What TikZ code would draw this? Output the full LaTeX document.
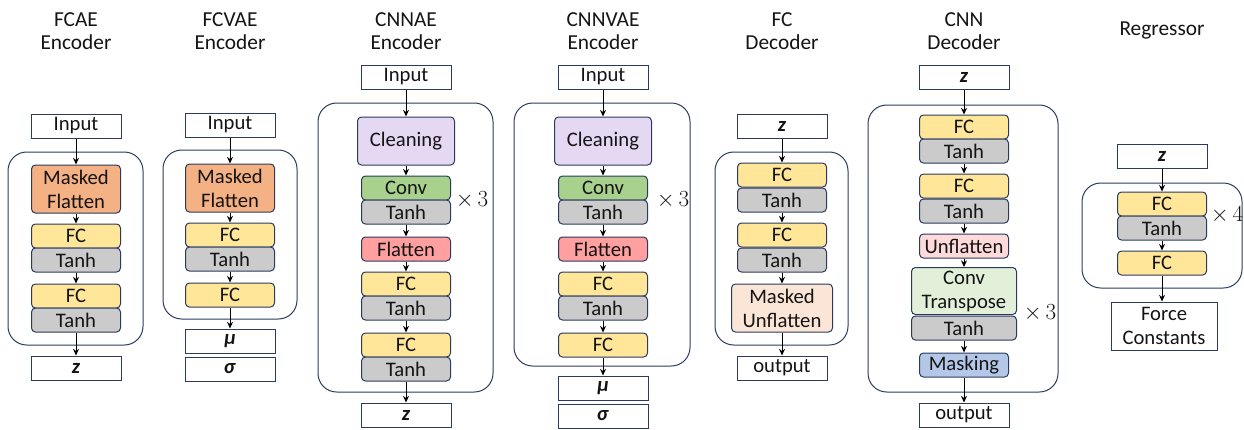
\documentclass[tikz,border=0pt]{standalone}
\usepackage{fontspec}
\setmainfont{Carlito}
\usetikzlibrary{arrows.meta}

\definecolor{edge}{HTML}{2B3A5E}
\definecolor{cMask}{HTML}{F4B183}
\definecolor{cFC}{HTML}{FFE699}
\definecolor{cTanh}{HTML}{CBCBCB}
\definecolor{cConv}{HTML}{A9D18E}
\definecolor{cClean}{HTML}{E5D8F3}
\definecolor{cFlat}{HTML}{FF9F9F}
\definecolor{cMUnfl}{HTML}{FBE5D6}
\definecolor{cUnfl}{HTML}{FFDADA}
\definecolor{cCT}{HTML}{E2F0D9}
\definecolor{cMaskg}{HTML}{B4C7E7}

\tikzset{
  blk/.style={draw=edge, line width=0.75pt, rounded corners=3pt,
    minimum width=66.75pt, minimum height=18pt, inner sep=0pt,
    font=\fontsize{15.5}{18}\selectfont, align=center, text=black!92},
  tall/.style={blk, minimum height=36pt},
  io/.style={draw=edge, line width=0.75pt, fill=white,
    minimum width=67.5pt, minimum height=18pt, inner sep=0pt,
    font=\fontsize{15.5}{18}\selectfont, align=center, text=black!92},
  ttl/.style={font=\fontsize{16}{17.5}\selectfont, align=center, text=black!92},
  holder/.style={draw=edge, line width=0.75pt, rounded corners=14pt},
  rep/.style={font=\fontsize{16.5}{18}\selectfont, text=black!92},
  arr/.style={-{Stealth[length=5pt,width=4.5pt]}, line width=0.6pt, black}
}

\newcommand{\zz}{\textbf{\textit{z}}}
\newcommand{\muv}{\textbf{\textit{μ}}}
\newcommand{\sgv}{\textbf{\textit{σ}}}

\begin{document}
\begin{tikzpicture}[x=0.75pt,y=-0.75pt]
\useasboundingbox (0,0) rectangle (1244,429);

% ---------- FCAE encoder ----------
\node[ttl] (t1) at (76,31) {FCAE\\Encoder};
\draw[holder] (8,152) rectangle (143,345);
\node[io] (in1) at (76,126) {Input};
\node[tall, fill=cMask] (mf1) at (76,189) {Masked\\Flatten};
\node[blk, fill=cFC] (fc1a) at (76,236) {FC};
\node[blk, fill=cTanh] (th1a) at (76,260) {Tanh};
\node[blk, fill=cFC] (fc1b) at (76,296) {FC};
\node[blk, fill=cTanh] (th1b) at (76,320) {Tanh};
\node[io] (z1) at (76,368) {\zz};
\draw[arr] (in1) -- (mf1);
\draw[arr] (mf1) -- (fc1a);
\draw[arr] (th1a) -- (fc1b);
\draw[arr] (th1b) -- (z1);

% ---------- FCVAE encoder ----------
\node[ttl] (t2) at (230,31) {FCVAE\\Encoder};
\draw[holder] (163,150) rectangle (297,319);
\node[io] (in2) at (230,125) {Input};
\node[tall, fill=cMask] (mf2) at (230,188) {Masked\\Flatten};
\node[blk, fill=cFC] (fc2a) at (230,235) {FC};
\node[blk, fill=cTanh] (th2a) at (230,259) {Tanh};
\node[blk, fill=cFC] (fc2b) at (230,295) {FC};
\node[io] (mu2) at (230,341) {\muv};
\node[io] (sg2) at (230,369) {\sgv};
\draw[arr] (in2) -- (mf2);
\draw[arr] (mf2) -- (fc2a);
\draw[arr] (th2a) -- (fc2b);
\draw[arr] (fc2b) -- (mu2);

% ---------- CNNAE encoder ----------
\node[ttl] (t3) at (406,31) {CNNAE\\Encoder};
\draw[holder] (318,103) rectangle (493,392);
\node[io] (in3) at (406,77) {Input};
\node[tall, fill=cClean, minimum width=72.75pt] (cl3) at (406,141) {Cleaning};
\node[blk, fill=cConv] (cv3) at (406,188) {Conv};
\node[blk, fill=cTanh] (th3a) at (406,212) {Tanh};
\node[rep] (x3) at (472,200) {$\times\,3$};
\node[blk, fill=cFlat] (fl3) at (406,249) {Flatten};
\node[blk, fill=cFC] (fc3a) at (406,284) {FC};
\node[blk, fill=cTanh] (th3b) at (406,308) {Tanh};
\node[blk, fill=cFC] (fc3b) at (406,345) {FC};
\node[blk, fill=cTanh] (th3c) at (406,369) {Tanh};
\node[io] (z3) at (406,415) {\zz};
\draw[arr] (in3) -- (cl3);
\draw[arr] (cl3) -- (cv3);
\draw[arr] (th3a) -- (fl3);
\draw[arr] (fl3) -- (fc3a);
\draw[arr] (th3b) -- (fc3b);
\draw[arr] (th3c) -- (z3);

% ---------- CNNVAE encoder ----------
\node[ttl] (t4) at (603,31) {CNNVAE\\Encoder};
\draw[holder] (514,103) rectangle (690,366);
\node[io] (in4) at (603,77) {Input};
\node[tall, fill=cClean, minimum width=72.75pt] (cl4) at (603,141) {Cleaning};
\node[blk, fill=cConv] (cv4) at (603,188) {Conv};
\node[blk, fill=cTanh] (th4a) at (603,212) {Tanh};
\node[rep] (x4) at (673,200) {$\times\,3$};
\node[blk, fill=cFlat] (fl4) at (603,249) {Flatten};
\node[blk, fill=cFC] (fc4a) at (603,284) {FC};
\node[blk, fill=cTanh] (th4b) at (603,308) {Tanh};
\node[blk, fill=cFC] (fc4b) at (603,345) {FC};
\node[io] (mu4) at (603,388) {\muv};
\node[io] (sg4) at (603,416) {\sgv};
\draw[arr] (in4) -- (cl4);
\draw[arr] (cl4) -- (cv4);
\draw[arr] (th4a) -- (fl4);
\draw[arr] (fl4) -- (fc4a);
\draw[arr] (th4b) -- (fc4b);
\draw[arr] (fc4b) -- (mu4);

% ---------- FC decoder ----------
\node[ttl] (t5) at (782,31) {FC\\Decoder};
\draw[holder] (715,152) rectangle (848,345);
\node[io] (z5) at (782,126) {\zz};
\node[blk, fill=cFC] (fc5a) at (782,175) {FC};
\node[blk, fill=cTanh] (th5a) at (782,200) {Tanh};
\node[blk, fill=cFC] (fc5b) at (782,235) {FC};
\node[blk, fill=cTanh] (th5b) at (782,260) {Tanh};
\node[tall, fill=cMUnfl, minimum width=75.75pt] (mu5) at (782,308) {Masked\\Unflatten};
\node[io] (out5) at (782,368) {output};
\draw[arr] (z5) -- (fc5a);
\draw[arr] (th5a) -- (fc5b);
\draw[arr] (th5b) -- (mu5);
\draw[arr] (mu5) -- (out5);

% ---------- CNN decoder ----------
\node[ttl] (t6) at (964,31) {CNN\\Decoder};
\draw[holder] (868,105) rectangle (1058,392);
\node[io] (z6) at (964,77) {\zz};
\node[blk, fill=cFC] (fc6a) at (964,127) {FC};
\node[blk, fill=cTanh] (th6a) at (964,151) {Tanh};
\node[blk, fill=cFC] (fc6b) at (964,186) {FC};
\node[blk, fill=cTanh] (th6b) at (964,211) {Tanh};
\node[blk, fill=cUnfl] (uf6) at (964,246) {Unflatten};
\node[blk, fill=cCT, minimum width=78.75pt, minimum height=35.25pt] (ct6) at (964,291) {Conv\\Transpose};
\node[blk, fill=cTanh, minimum width=78.75pt] (th6c) at (964,328) {Tanh};
\node[rep] (x6) at (1040,313) {$\times\,3$};
\node[blk, fill=cMaskg] (mk6) at (964,365) {Masking};
\node[io] (out6) at (964,415) {output};
\draw[arr] (z6) -- (fc6a);
\draw[arr] (th6a) -- (fc6b);
\draw[arr] (th6b) -- (uf6);
\draw[arr] (uf6) -- (ct6);
\draw[arr] (th6c) -- (mk6);
\draw[arr] (mk6) -- (out6);

% ---------- Regressor ----------
\node[ttl] (t7) at (1162,30) {Regressor};
\draw[holder] (1082,183) rectangle (1242,288);
\node[io] (z7) at (1162,156) {\zz};
\node[blk, fill=cFC] (fc7a) at (1162,204) {FC};
\node[blk, fill=cTanh] (th7a) at (1162,228) {Tanh};
\node[rep] (x7) at (1227,215) {$\times\,4$};
\node[blk, fill=cFC] (fc7b) at (1162,263) {FC};
\node[io, minimum width=79.5pt, minimum height=36pt] (fk7) at (1164,326) {Force\\Constants};
\draw[arr] (z7) -- (fc7a);
\draw[arr] (th7a) -- (fc7b);
\draw[arr] (fc7b) -- (fc7b |- fk7.north);
\end{tikzpicture}
\end{document}
